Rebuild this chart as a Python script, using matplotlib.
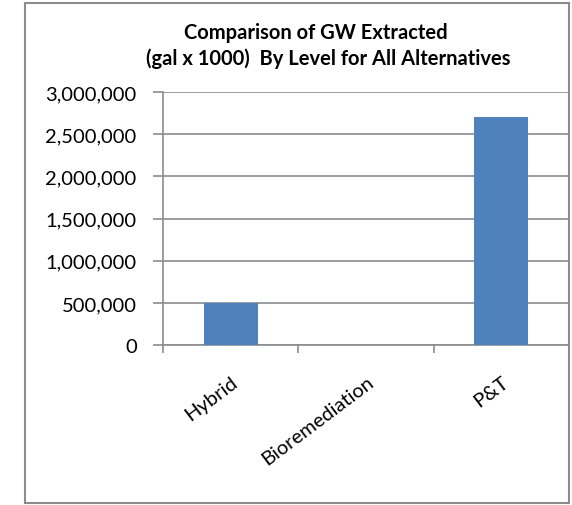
import matplotlib.pyplot as plt
from matplotlib.patches import Rectangle
from matplotlib.ticker import FuncFormatter
from matplotlib.transforms import ScaledTranslation

plt.rcParams["font.family"] = ["Lato", "DejaVu Sans"]

# groundwater extracted, gal x 1000
alternatives = ["Hybrid", "Bioremediation", "P&T"]
gw_extracted = [500000, 0, 2700000]
y_ticks = [0, 500000, 1000000, 1500000, 2000000, 2500000, 3000000]

BAR_COLOR = "#4F81BD"
LINE_GRAY = "#8C8C8C"

fig = plt.figure(figsize=(5.72, 5.06), dpi=100)
ax = fig.add_axes([0.285, 0.316, 0.7098, 0.5])

x = list(range(len(alternatives)))
ax.bar(x, gw_extracted, width=0.4, color=BAR_COLOR, zorder=3)

ax.set_xlim(-0.5, len(alternatives) - 0.5)
ax.set_ylim(0, 3000000)
ax.set_yticks(y_ticks)
ax.yaxis.set_major_formatter(FuncFormatter(lambda v, _: f"{int(v):,}"))
ax.grid(axis="y", color=LINE_GRAY, linewidth=1.2, zorder=0)

# category labels, tick marks sit on the category boundaries
ax.set_xticks(x)
ax.set_xticklabels(alternatives, rotation=37, ha="right", rotation_mode="anchor", fontsize=14.5)
nudge = ScaledTranslation(-5 / 72, 3 / 72, fig.dpi_scale_trans)
for lbl in ax.get_xticklabels():
    lbl.set_transform(lbl.get_transform() + nudge)
ax.tick_params(axis="x", length=0, pad=20)
ax.set_xticks([i - 0.5 for i in range(len(alternatives) + 1)], minor=True)
ax.tick_params(axis="x", which="minor", length=6, width=1.2, color=LINE_GRAY, direction="out")
ax.tick_params(axis="y", length=7, width=1.2, color=LINE_GRAY, labelsize=14.5, pad=12)

for side in ("top", "right"):
    ax.spines[side].set_visible(False)
for side in ("left", "bottom"):
    ax.spines[side].set_color(LINE_GRAY)
    ax.spines[side].set_linewidth(1.2)

fig.text(316 / 572, 1 - 33 / 506, "Comparison of GW Extracted",
         ha="center", va="center", fontsize=14.5, fontweight="bold")
fig.text(328 / 572, 1 - 59 / 506, "(gal x 1000)  By Level for All Alternatives",
         ha="center", va="center", fontsize=14.5, fontweight="bold")

# chart frame
fig.add_artist(Rectangle((25 / 572, 1 - 504 / 506), 544 / 572, 500 / 506, transform=fig.transFigure,
                         fill=False, edgecolor=LINE_GRAY, linewidth=1.5))

fig.savefig("out.png", dpi=100)
